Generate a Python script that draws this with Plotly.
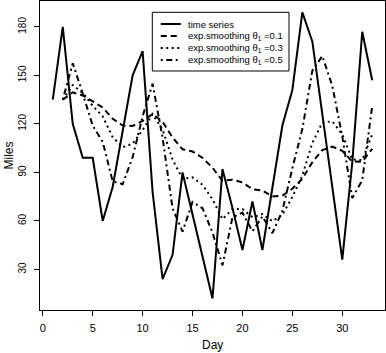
import plotly.graph_objects as go

days = list(range(1, 34))
miles = [135, 180, 120, 99, 99, 60, 81, 116, 150, 165, 78, 24, 39, 90, 64, 38,
         12, 92, 68, 42, 72, 42, 80, 119, 141, 189, 171, 125, 81, 36, 96, 177, 147]

smooth_days = list(range(2, 34))
smooth_01 = [135, 139.5, 137.6, 133.7, 130.2, 123.2, 119.0, 118.7, 121.8, 126.1, 121.3,
             111.6, 104.3, 102.9, 99.0, 92.9, 84.8, 85.5, 83.8, 79.6, 78.8, 75.1, 75.6,
             79.9, 86.0, 96.3, 103.8, 105.9, 103.4, 96.7, 96.6, 104.6]
smooth_03 = [135, 144, 139.2, 131.2, 124.7, 111.8, 105.6, 107.7, 116.2, 126.0, 116.4,
             97.9, 86.1, 86.9, 82.3, 73.4, 61.1, 67.3, 67.4, 62.3, 64.2, 59.8, 63.8,
             74.8, 88.0, 108.2, 120.8, 121.6, 113.5, 98.0, 97.6, 113.5]
smooth_05 = [135, 157.5, 138.8, 118.9, 108.9, 84.5, 82.7, 99.4, 124.7, 144.8, 111.4,
             67.7, 53.4, 71.7, 67.8, 52.9, 32.5, 62.2, 65.1, 53.6, 62.8, 52.4, 66.2,
             92.6, 116.8, 152.9, 162.0, 143.5, 112.2, 74.1, 85.1, 131.0]

x_ticks = [0, 5, 10, 15, 20, 25, 30]
y_ticks = [30, 60, 90, 120, 150, 180]

legend_labels = ["time series",
                 "exp.smoothing θ<sub>1</sub> =0.1",
                 "exp.smoothing θ<sub>1</sub> =0.3",
                 "exp.smoothing θ<sub>1</sub> =0.5"]

FONT = "Liberation Sans, Arial, Helvetica, sans-serif"
DASHES = ["solid", "6px,4px", "2px,3.5px", "2px,3.5px,6px,3.5px"]

fig = go.Figure()
series = [(days, miles), (smooth_days, smooth_01), (smooth_days, smooth_03), (smooth_days, smooth_05)]
for (xs, ys), dash, name in zip(series, DASHES, legend_labels):
    fig.add_trace(go.Scatter(x=xs, y=ys, mode="lines", name=name, showlegend=False,
                             line=dict(color="black", width=2, dash=dash)))

# manual legend (R style)
shapes = [dict(type="rect", xref="paper", yref="paper", x0=0.3255, x1=0.7217,
               y0=0.7735, y1=0.9634, line=dict(color="black", width=1),
               fillcolor="white", layer="above")]
annotations = []
row_y = [24, 36, 48, 60]
for py, dash, lab in zip(row_y, DASHES, legend_labels):
    yp = (310 - py) / 309
    shapes.append(dict(type="line", xref="paper", yref="paper", x0=0.35, x1=0.408,
                       y0=yp, y1=yp, line=dict(color="black", width=2, dash=dash),
                       layer="above"))
    annotations.append(dict(xref="paper", yref="paper", x=0.423, y=yp, text=lab,
                            showarrow=False, xanchor="left", yanchor="middle",
                            font=dict(size=9.5, family=FONT, color="black")))

annotations.append(dict(xref="paper", yref="paper", x=0.5, y=-35 / 309, text="Day",
                        showarrow=False, xanchor="center", yanchor="middle",
                        font=dict(size=12, family=FONT, color="black")))
annotations.append(dict(xref="paper", yref="paper", x=-32 / 345, y=0.5, text="Miles",
                        showarrow=False, xanchor="center", yanchor="middle", textangle=-90,
                        font=dict(size=12, family=FONT, color="black")))

fig.update_layout(
    width=386, height=353,
    margin=dict(l=40, r=1, t=1, b=43),
    paper_bgcolor="white", plot_bgcolor="white",
    font=dict(family=FONT, color="black"),
    shapes=shapes, annotations=annotations,
    xaxis=dict(range=[-0.28, 34.28], tickvals=x_ticks, ticks="outside", ticklen=5,
               tickcolor="black", showgrid=False, zeroline=False, showline=True,
               linecolor="black", linewidth=1, mirror=True,
               tickfont=dict(size=11, family=FONT), ticklabelstandoff=3),
    yaxis=dict(range=[4.9, 196], tickvals=y_ticks, ticks="outside", ticklen=5,
               tickcolor="black", showgrid=False, zeroline=False, showline=True,
               linecolor="black", linewidth=1, mirror=True, tickangle=-90,
               tickfont=dict(size=10, family=FONT), ticklabelstandoff=4),
)

fig.write_html("out.html", config={"displayModeBar": False},
               post_script="document.body.style.margin='0';document.body.style.overflow='hidden';")
